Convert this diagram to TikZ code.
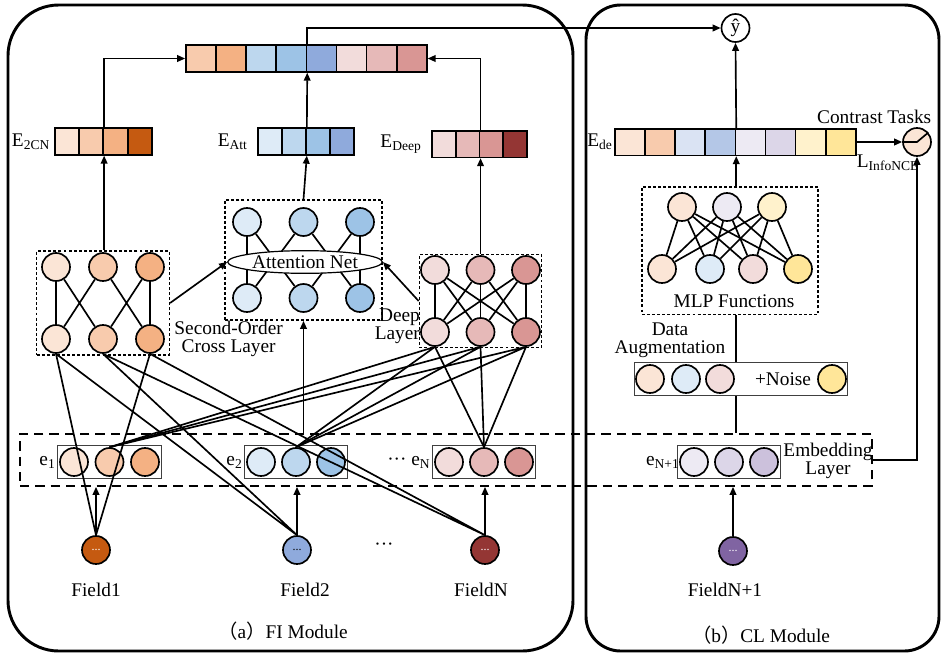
\documentclass[tikz,border=0pt]{standalone}
\usepackage{fontspec}
\setmainfont{Liberation Serif}
\newfontfamily\cjk{Noto Sans CJK SC}
\usetikzlibrary{positioning,fit,shapes.geometric,arrows.meta}

\definecolor{or1}{HTML}{FBE5D6}
\definecolor{or2}{HTML}{F8CBAD}
\definecolor{or3}{HTML}{F4B183}
\definecolor{or4}{HTML}{C55A11}
\definecolor{bl1}{HTML}{DEEBF7}
\definecolor{bl2}{HTML}{BDD7EE}
\definecolor{bl3}{HTML}{9DC3E6}
\definecolor{bl4}{HTML}{8FAADC}
\definecolor{bd1}{HTML}{DAE3F3}
\definecolor{bd2}{HTML}{B4C7E7}
\definecolor{rd1}{HTML}{F2DCDB}
\definecolor{rd2}{HTML}{E6B9B8}
\definecolor{rd3}{HTML}{D99694}
\definecolor{rd4}{HTML}{943634}
\definecolor{pu1}{HTML}{EDEAF3}
\definecolor{pu2}{HTML}{DCD6E8}
\definecolor{pu3}{HTML}{CCC1DC}
\definecolor{pu4}{HTML}{8064A2}
\definecolor{yl1}{HTML}{FFF2CC}
\definecolor{yl2}{HTML}{FFE699}

\begin{document}
\begin{tikzpicture}
[
    x=0.75pt, y=-0.75pt,
    font=\fontsize{14.5}{15.5}\selectfont,
    >={Triangle[length=6pt,width=5pt]},
    neuron/.style={circle, draw, line width=1.25pt, minimum size=21pt, inner sep=0pt},
    wire/.style={line width=1.25pt},
    cell/.style={draw, line width=1.25pt, minimum width=18pt, minimum height=20pt, inner sep=0pt},
    wcell/.style={cell, minimum width=22.6pt},
    dotbox/.style={draw, line width=1.1pt, dash pattern=on 2.2pt off 1.6pt, inner sep=0pt},
    ebox/.style={draw, black!75, line width=0.8pt, inner sep=1.2pt},
    module/.style={draw, line width=2.2pt},
    lbl/.style={inner sep=1pt},
]
\useasboundingbox (0,0) rectangle (942,654);

\draw[module, rounded corners=38pt] (8,5) rectangle (573,651);
\draw[module, rounded corners=26pt] (586,5) rectangle (939,651);

% bars
\foreach \c [count=\i] in {or2,or3,bl2,bl3,bl4,rd1,rd2,rd3}
    \node[wcell, fill=\c] (cat-\i) at ({186+(\i-0.5)*30.1},58.5) {};
\foreach \c [count=\i] in {or1,or2,or3,or4}
    \node[cell, fill=\c] (e2cn-\i) at ({55+(\i-0.5)*24.2},141.5) {};
\foreach \c [count=\i] in {bl1,bl2,bl3,bl4}
    \node[cell, fill=\c] (eatt-\i) at ({258+(\i-0.5)*24},141.5) {};
\foreach \c [count=\i] in {rd1,rd2,rd3,rd4}
    \node[cell, fill=\c] (edeep-\i) at ({432+(\i-0.5)*23.8},144) {};
\foreach \c [count=\i] in {or1,or2,bd1,bd2,pu1,pu2,yl1,yl2}
    \node[wcell, fill=\c] (ede-\i) at ({615+(\i-0.5)*30.1},142) {};
\node[lbl, left=2pt of e2cn-1] (l2cn) {E\textsubscript{2CN}};
\node[lbl, left=6pt of eatt-1] (latt) {E\textsubscript{Att}};
\node[lbl, left=6pt of edeep-1] (ldeep) {E\textsubscript{Deep}};
\node[lbl, left=0pt of ede-1] (lde) {E\textsubscript{de}};

\node[neuron] (yhat) at (735.5,28) {ŷ};
\node[neuron, fill=or1] (ctr) at (917,142) {};
\draw[wire] (ctr.west) -- (ctr.center) -- (ctr.40);
\node[lbl, anchor=south east] (ctrtxt) at ([xshift=4pt, yshift=5pt]ctr.north east) {Contrast Tasks};
\node[inner sep=0pt, anchor=north west] (linfo) at ([yshift=1pt]ede-8.south east) {L\textsubscript{InfoNCE}};

% second-order cross layer
\foreach \c [count=\i] in {or1,or2,or3} {
    \node[neuron, fill=\c] (ct-\i) at ({56+(\i-1)*47},267) {};
    \node[neuron, fill=\c] (cb-\i) at ({56+(\i-1)*47},339) {};
}
\draw[wire] (ct-1) -- (cb-1) (ct-3) -- (cb-3) (ct-1) -- (cb-2) (ct-2) -- (cb-1) (ct-2) -- (cb-3) (ct-3) -- (cb-2);
\node[dotbox, fit=(ct-1)(cb-3), inner xsep=3.4pt, inner ysep=0.8pt] (cross) {};
\node[lbl, right=6pt of cb-3, align=center] (crosstxt) {Second-Order\\[-2pt]Cross Layer};

% attention net
\foreach \c [count=\i] in {bl1,bl2,bl3} {
    \node[neuron, fill=\c] (at-\i) at ({247+(\i-1)*56.5},222) {};
    \node[neuron, fill=\c] (ab-\i) at ({247+(\i-1)*56.5},298) {};
}
\draw[wire] (at-1) -- (ab-1) (at-3) -- (ab-3) (at-1) -- (ab-2) (at-2) -- (ab-1) (at-2) -- (ab-3) (at-3) -- (ab-2);
\node[dotbox, fit=(at-1)(ab-3), inner sep=5.5pt] (attbox) {};
\node[ellipse, draw, fill=white, line width=0.9pt, inner sep=0pt, minimum width=116pt, minimum height=17pt] (attn) at (305,262) {Attention Net};

% deep layer
\foreach \c [count=\i] in {rd1,rd2,rd3} {
    \node[neuron, fill=\c] (dt-\i) at ({435+(\i-1)*45.5},270) {};
    \node[neuron, fill=\c] (db-\i) at ({435+(\i-1)*45.5},332) {};
}
\foreach \i in {1,2,3}
    \foreach \j in {1,2,3}
        \draw[wire] (dt-\i) -- (db-\j);
\node[dotbox, fit=(dt-1)(db-3), inner sep=0.6pt] (deep) {};
\node[lbl, left=-1pt of db-1, yshift=4pt, align=right] (deeptxt) {Deep\\[-2pt]Layer};

% MLP functions
\node[lbl] (mlptxt) at (734,301) {MLP Functions};
\foreach \c [count=\i] in {or1,pu1,yl1}
    \node[neuron, fill=\c] (mt-\i) at ({682+(\i-1)*45},207) {};
\foreach \c/\x [count=\i] in {or1/662,bl1/710,rd1/753,yl2/798}
    \node[neuron, fill=\c] (mb-\i) at (\x,269) {};
\foreach \i in {1,2,3}
    \foreach \j in {1,2,3,4}
        \draw[wire] (mt-\i) -- (mb-\j);
\node[dotbox, fit=(mt-1)(mb-1)(mb-4)(mlptxt), inner sep=4pt] (mlp) {};

% data augmentation
\foreach \c/\x [count=\i] in {or1/650,bl1/686,rd1/720,yl2/832}
    \node[neuron, fill=\c] (ag-\i) at (\x,379) {};
\node[lbl] (noise) at (783,379) {+Noise};
\node[ebox, fit=(ag-1)(ag-4), inner xsep=0.6pt, inner ysep=1.4pt] (aug) {};
\node[lbl, align=center] (augtxt) at (670,340) {Data\\[-2pt]Augmentation};

% embedding layer
\node[draw, line width=1.3pt, dash pattern=on 7pt off 4.5pt, minimum width=639pt, minimum height=39pt] (emb) at (446,460) {};
\foreach \c [count=\i] in {or1,or2,or3}
    \node[neuron, fill=\c] (e1-\i) at ({74+(\i-1)*35.5},462) {};
\foreach \c [count=\i] in {bl1,bl2,bl3}
    \node[neuron, fill=\c] (e2-\i) at ({261+(\i-1)*35},462) {};
\foreach \c [count=\i] in {rd1,rd2,rd3}
    \node[neuron, fill=\c] (eN-\i) at ({449+(\i-1)*35},462) {};
\foreach \c [count=\i] in {pu1,pu2,pu3}
    \node[neuron, fill=\c] (eM-\i) at ({694+(\i-1)*35},462) {};
\node[ebox, fit=(e1-1)(e1-3)] (e1box) {};
\node[ebox, fit=(e2-1)(e2-3)] (e2box) {};
\node[ebox, fit=(eN-1)(eN-3)] (eNbox) {};
\node[ebox, fit=(eM-1)(eM-3)] (eMbox) {};
\node[lbl, left=0pt of e1box] (le1) {e\textsubscript{1}};
\node[lbl, left=0pt of e2box] (le2) {e\textsubscript{2}};
\node[lbl, left=0pt of eNbox] (leN) {··· e\textsubscript{N}};
\node[lbl, left=-3pt of eMbox] (leM) {e\textsubscript{N+1}};
\node[lbl, align=center] (embtxt) at (828,461) {Embedding\\[-2pt]Layer};

% fields
\node[neuron, fill=or4] (field1) at (96,550) {\textcolor{white}{\fontsize{9}{9}\selectfont...}};
\node[neuron, fill=bl4] (field2) at (297,550) {\fontsize{9}{9}\selectfont...};
\node[neuron, fill=rd4] (fieldN) at (485,550) {\textcolor{white}{\fontsize{9}{9}\selectfont...}};
\node[neuron, fill=pu4] (fieldM) at (733,551) {\textcolor{white}{\fontsize{9}{9}\selectfont...}};
\node[lbl] (fdots) at (384,547) {···};
\node[lbl] (lf1) at (96,590) {Field1};
\node[lbl] (lf2) at (305,590) {Field2};
\node[lbl] (lfN) at (481,590) {FieldN};
\node[lbl] (lfM) at (725,590) {FieldN+1};
\node[lbl] (capa) at (283,631) {{\cjk （}a{\cjk ）}FI Module};
\node[lbl] (capb) at (761,635) {{\cjk （}b{\cjk ）}CL Module};

% connections
\draw[wire, ->] (e2cn-2.north east) |- (cat-1.west);
\draw[wire, ->] (edeep-2.north east) |- (cat-8.east);
\draw[wire, ->] (cat-4.north east) |- (yhat.west);
\draw[wire, ->] (eatt-2.north east) -- (cat-4.south east);
\draw[wire, ->] (e2cn-2.south east |- cross.north) -- (e2cn-2.south east);
\draw[wire, ->] (attbox.north) -- (eatt-2.south east);
\draw[wire, ->] (edeep-2.south east |- deep.north) -- (edeep-2.south east);
\draw[wire, ->] (cross.east) -- (attn.west);
\draw[wire, ->] (deep.west) -- (attn.east);
\draw[wire, ->] (attbox.south |- emb.north) -- (attbox.south);
\draw[wire, ->] (ede-4.south east |- mlp.north) -- (ede-4.south east);
\draw[wire, ->] (ede-4.north east) -- (yhat.south);
\draw[wire] (ede-4.south east |- mlp.south) -- (ede-4.south east |- aug.north);
\draw[wire] (ede-4.south east |- aug.south) -- (ede-4.south east |- emb.north);
\draw[wire, ->] (ede-8.east) -- (ctr.west);
\draw[wire, ->] (emb.east) -| (ctr.south);
\foreach \j in {1,2,3}
    \draw[wire] (db-\j.south) -- (e1-2.north) (db-\j.south) -- (e2-2.north) (db-\j.south) -- (eN-2.north);
\draw[wire] (cb-1.south) -- (field1.north) (cb-1.south) -- (field2.north)
            (cb-2.south) -- (field2.north) (cb-2.south) -- (fieldN.north)
            (cb-3.south) -- (field1.north) (cb-3.south) -- (fieldN.north);
\draw[wire, ->] (field1.north) -- (field1 |- emb.south);
\draw[wire, ->] (field2.north) -- (field2 |- emb.south);
\draw[wire, ->] (fieldN.north) -- (fieldN |- emb.south);
\draw[wire, ->] (fieldM.north) -- (fieldM |- emb.south);
\end{tikzpicture}
\end{document}
